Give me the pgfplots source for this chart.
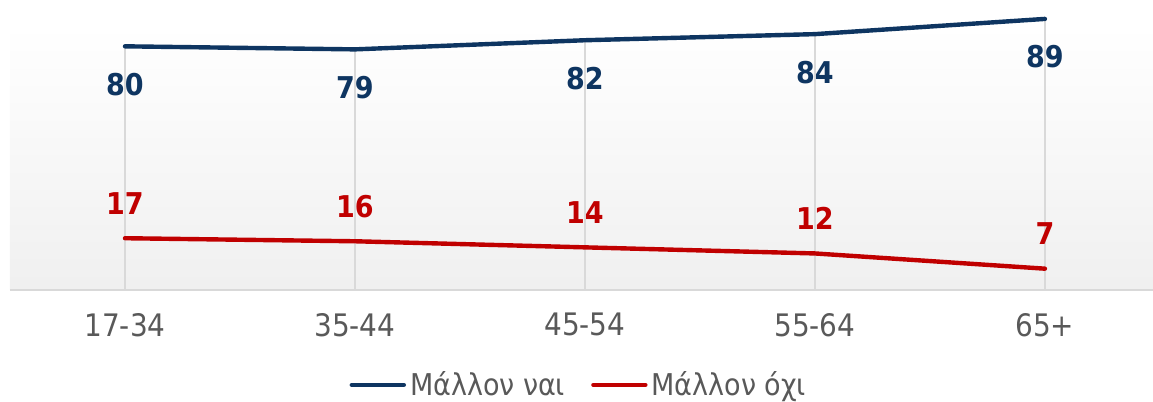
\documentclass[border=0pt]{standalone}
\usepackage{pgfplots}
\pgfplotsset{compat=1.18}
\usepackage{fontspec}
\setmainfont{DejaVu Sans Condensed}
\definecolor{navy}{HTML}{0E3561}
\definecolor{myred}{HTML}{C00000}
\definecolor{txtgray}{HTML}{595959}
\definecolor{gridgray}{HTML}{D9D9D9}
\begin{document}
\begin{tikzpicture}
\useasboundingbox (0,0) rectangle (576.5pt,201pt);
\begin{axis}[
  at={(5pt,56pt)}, anchor=south west,
  scale only axis, width=571.5pt, height=132.5pt,
  xmin=-0.5, xmax=4.47, ymin=0, ymax=87,
  axis x line=bottom, axis y line=none,
  x axis line style={gridgray, line width=1pt, -},
  xtick={0,1,2,3,4},
  xticklabels={17-34,35-44,45-54,55-64,65+},
  major tick length=0pt,
  xticklabel style={font=\fontsize{15.5pt}{17pt}\selectfont, text=txtgray, yshift=-8pt},
  axis background/.style={shade, top color=white, bottom color=black!6},
  clip=false,
  /pgf/number format/assume math mode=true,
  legend columns=2,
  legend style={at={(0.4985,-0.358)}, anchor=center, draw=none, fill=none,
    font=\fontsize{15pt}{17pt}\selectfont, text=txtgray,
    nodes={inner xsep=2pt},
    /tikz/every even column/.append style={column sep=11pt}},
  legend image code/.code={\draw[#1, line cap=round] (0pt,0pt) -- (26pt,0pt);},
]
\addplot[ycomb, gridgray, line width=0.8pt, forget plot] coordinates {(0,80) (1,79) (2,82) (3,84) (4,89)};
\addplot[navy, line width=2.2pt, line cap=round, line join=round,
  nodes near coords, every node near coord/.append style={font=\fontsize{15pt}{17pt}\selectfont\bfseries, text=navy, anchor=center, yshift=-19pt}]
  coordinates {(0,80) (1,79) (2,82) (3,84) (4,89)};
\addlegendentry{Μάλλον ναι}
\addplot[myred, line width=2.2pt, line cap=round, line join=round,
  nodes near coords, every node near coord/.append style={font=\fontsize{15pt}{17pt}\selectfont\bfseries, text=myred, anchor=center, yshift=17.5pt}]
  coordinates {(0,17) (1,16) (2,14) (3,12) (4,7)};
\addlegendentry{Μάλλον όχι}
\end{axis}
\end{tikzpicture}
\end{document}
